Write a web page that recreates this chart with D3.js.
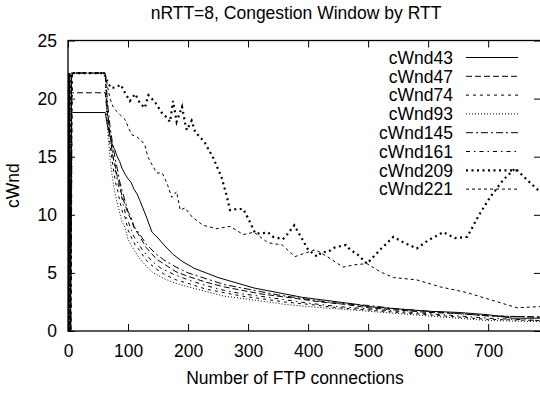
<!DOCTYPE html>
<html><head><meta charset="utf-8">
<script src="https://cdn.jsdelivr.net/npm/d3@7"></script>
<style>
body{margin:0;background:#fff}
svg{display:block}
text{font-family:"Liberation Sans",Arial,Helvetica,sans-serif;fill:#000}
</style>
</head><body>
<svg id="chart" width="540" height="393"></svg>
<script>
const titleText = "nRTT=8, Congestion Window by RTT";
const xLabelText = "Number of FTP connections";
const yLabelText = "cWnd";
const xTicks = [0, 100, 200, 300, 400, 500, 600, 700];
const yTicks = [0, 5, 10, 15, 20, 25];
const seriesNames = ["cWnd43", "cWnd47", "cWnd74", "cWnd93", "cWnd145", "cWnd161", "cWnd209", "cWnd221"];

const cWnd43 = [[0,0],[2,18.8],[4,0],[6,18.8],[8,18.8],[62,18.8],[66,17.6],[70,16.8],[74,16.0],[78,15.6],[82,15.0],[86,14.6],[90,14.0],[95,13.5],[100,13.1],[105,12.8],[110,12.2],[115,11.8],[120,11.2],[130,9.9],[140,8.5],[150,8.0],[160,7.4],[175,6.6],[190,6.0],[210,5.4],[230,5.0],[250,4.6],[270,4.3],[290,4.0],[310,3.7],[330,3.5],[350,3.3],[370,3.1],[390,2.9],[420,2.7],[450,2.5],[480,2.3],[500,2.1],[550,1.9],[600,1.7],[650,1.6],[700,1.4],[740,1.1],[788,1.1]];
const cWnd47 = [[0,0],[2,20.5],[4,0],[6,20.5],[8,20.5],[62,20.5],[66,18.5],[70,17.0],[74,15.2],[78,14.4],[82,13.3],[86,12.6],[90,11.6],[95,10.9],[100,10.1],[105,9.6],[110,8.9],[120,8.1],[130,7.2],[140,6.6],[150,6.1],[165,5.6],[180,5.1],[200,4.7],[230,4.2],[260,3.8],[290,3.5],[320,3.2],[350,3.0],[380,2.8],[420,2.5],[460,2.3],[500,2.0],[550,1.8],[600,1.6],[650,1.5],[700,1.3],[788,1.2]];
const cWnd74 = [[0,0],[3,22.2],[5,0],[7,22.2],[8,22.2],[62,22.2],[65,19.2],[68,17.0],[71,15.6],[75,14.2],[79,12.8],[83,12.0],[87,11.0],[91,10.2],[95,9.8],[100,8.7],[106,8.0],[112,7.4],[120,6.9],[130,6.1],[145,5.4],[160,4.9],[180,4.4],[200,4.1],[230,3.6],[260,3.3],[290,3.0],[320,2.8],[360,2.5],[400,2.3],[450,2.0],[500,1.8],[550,1.6],[600,1.4],[650,1.2],[700,1.0],[788,0.9]];
const cWnd93 = [[0,0],[1,22.2],[3,0],[5,22.2],[8,22.2],[62,22.2],[64,19.0],[67,16.6],[70,14.9],[73,13.6],[77,12.2],[81,11.2],[85,10.4],[90,9.4],[95,8.9],[100,7.9],[105,7.4],[112,6.8],[120,6.2],[130,5.6],[142,5.0],[160,4.5],[180,4.1],[200,3.8],[230,3.4],[260,3.0],[290,2.8],[320,2.6],[360,2.3],[400,2.1],[450,1.9],[500,1.7],[550,1.5],[600,1.3],[650,1.1],[700,0.9],[788,0.8]];
const cWnd145 = [[0,0],[2,22.2],[4,0],[6,22.2],[8,22.2],[62,22.2],[66,19.6],[70,17.6],[74,16.2],[78,15.0],[82,14.0],[86,12.9],[90,12.1],[95,11.2],[100,10.3],[105,9.8],[110,9.0],[120,8.3],[130,7.5],[145,6.7],[160,6.1],[180,5.5],[200,5.0],[230,4.5],[260,4.0],[290,3.7],[320,3.4],[350,3.1],[390,2.8],[430,2.5],[470,2.3],[500,2.2],[550,1.9],[600,1.7],[650,1.5],[700,1.3],[788,1.2]];
const cWnd161 = [[0,0],[3,22.2],[5,0],[7,22.2],[8,22.2],[62,22.2],[66,19.0],[69,17.2],[72,16.4],[76,14.6],[80,13.6],[84,12.5],[88,11.9],[92,10.9],[97,9.8],[102,9.2],[108,8.3],[115,7.7],[125,6.9],[140,6.0],[155,5.4],[175,4.9],[200,4.4],[230,3.9],[260,3.5],[290,3.2],[320,3.0],[360,2.7],[400,2.4],[450,2.1],[500,1.9],[550,1.7],[600,1.5],[650,1.3],[700,1.1],[788,0.9]];
const cWnd209 = [[0,0],[1,22.2],[3,0],[5,22.2],[8,22.2],[60,22.2],[66,21.4],[72,20.9],[81,21.0],[88,21.2],[95,20.5],[103,19.8],[112,20.4],[120,19.6],[128,19.2],[134,20.3],[145,19.7],[156,18.8],[162,18.5],[170,18.0],[175,19.8],[181,18.0],[190,19.3],[195,17.9],[198,17.3],[206,18.1],[212,17.1],[220,16.7],[228,16.2],[242,14.9],[256,13.2],[265,11.5],[270,10.4],[282,10.5],[292,10.5],[300,9.7],[312,8.4],[323,8.4],[333,8.5],[342,8.1],[358,7.9],[365,8.3],[377,9.1],[388,8.1],[400,7.0],[415,6.4],[423,6.8],[433,6.8],[445,7.2],[463,7.4],[470,7.0],[482,6.6],[498,5.8],[520,7.0],[542,8.1],[560,7.6],[581,7.1],[600,7.8],[625,8.5],[645,8.0],[665,8.1],[685,10.0],[703,11.5],[725,13.0],[745,14.0],[765,13.0],[788,11.9]];
const cWnd221 = [[0,0],[2,22.2],[4,0],[6,22.2],[8,22.2],[62,22.2],[66,21.0],[70,20.0],[75,19.3],[81,18.9],[87,18.6],[95,18.2],[100,17.6],[106,16.9],[115,16.7],[122,16.4],[128,16.0],[133,15.0],[140,14.3],[148,13.6],[157,13.6],[165,12.7],[173,11.5],[181,12.0],[187,10.4],[195,10.6],[207,9.8],[225,9.1],[248,8.8],[270,9.0],[292,8.3],[310,8.5],[333,7.6],[357,7.4],[378,6.4],[395,6.7],[412,7.0],[432,6.4],[458,5.5],[478,5.7],[498,5.8],[520,5.1],[542,4.6],[581,4.4],[620,3.8],[665,3.3],[703,2.7],[748,2.0],[788,2.1]];

const seriesData = [cWnd43, cWnd47, cWnd74, cWnd93, cWnd145, cWnd161, cWnd209, cWnd221];
const dashes = ["none", "6,3", "3,4", "1,2", "7,3,2,3", "4,4,1.5,4", "2,3.5", "3,3"];
const widths = [1, 1, 1, 1, 1, 1, 2.2, 1];

const L = 68, R = 541, T = 40.5, B = 331;
const svg = d3.select("#chart");
const x = d3.scaleLinear().domain([0, 788]).range([L, R]);
const y = d3.scaleLinear().domain([0, 25]).range([B, T]);
const FS = 17.5;

svg.append("clipPath").attr("id", "clip").append("rect")
  .attr("x", L).attr("y", T).attr("width", R - L).attr("height", B - T);

const line = d3.line().x(d => x(d[0])).y(d => y(d[1]));
const plot = svg.append("g").attr("clip-path", "url(#clip)");
seriesData.forEach((s, i) => {
  plot.append("path").datum(s).attr("d", line)
    .attr("fill", "none").attr("stroke", "#000")
    .attr("stroke-width", widths[i])
    .attr("stroke-dasharray", dashes[i]);
});

function styleAxis(g) {
  g.select(".domain").remove();
  g.selectAll(".tick line").attr("stroke", "#000").attr("stroke-width", 1);
  g.selectAll("text").style("font-size", FS + "px").style("font-family", '"Liberation Sans",Arial,sans-serif').attr("fill", "#000");
}
svg.append("g").attr("transform", `translate(0,${B})`)
  .call(d3.axisBottom(x).tickValues(xTicks).tickSize(-7).tickPadding(14)).call(styleAxis);
svg.append("g").attr("transform", `translate(0,${T})`)
  .call(d3.axisTop(x).tickValues(xTicks).tickSize(-7).tickFormat("")).call(styleAxis);
svg.append("g").attr("transform", `translate(${L},0)`)
  .call(d3.axisLeft(y).tickValues(yTicks).tickSize(-7).tickPadding(11)).call(styleAxis);
svg.append("g").attr("transform", `translate(${R},0)`)
  .call(d3.axisRight(y).tickValues(yTicks).tickSize(-7).tickFormat("")).call(styleAxis);

svg.append("rect").attr("x", L).attr("y", T).attr("width", R - L).attr("height", B - T)
  .attr("fill", "none").attr("stroke", "#000").attr("stroke-width", 1.3);

// legend
seriesNames.forEach((n, i) => {
  const yy = 57.5 + 18.8 * i;
  svg.append("text").attr("x", 453).attr("y", yy).attr("dy", "0.36em")
    .attr("text-anchor", "end").style("font-size", FS + "px").text(n);
  svg.append("line").attr("x1", 466).attr("x2", 518).attr("y1", yy).attr("y2", yy)
    .attr("stroke", "#000").attr("stroke-width", widths[i]).attr("stroke-dasharray", dashes[i]);
});

svg.append("text").attr("x", 296).attr("y", 19).attr("text-anchor", "middle")
  .style("font-size", FS + "px").text(titleText);
svg.append("text").attr("x", 295).attr("y", 384).attr("text-anchor", "middle")
  .style("font-size", FS + "px").text(xLabelText);
svg.append("text").attr("transform", `translate(19,${(T + B) / 2}) rotate(-90)`)
  .attr("text-anchor", "middle").style("font-size", FS + "px").text(yLabelText);
</script>
</body></html>
